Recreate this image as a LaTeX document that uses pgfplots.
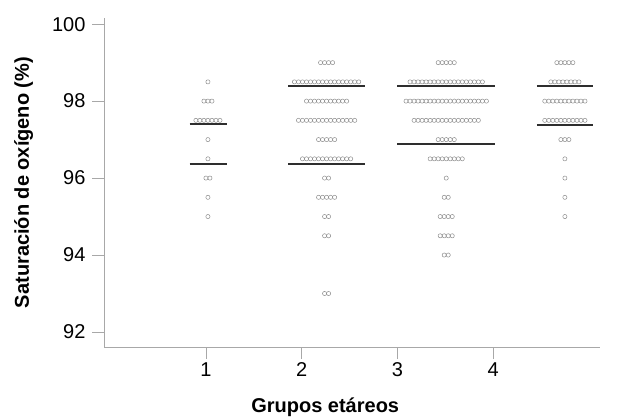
\documentclass[border=0pt]{standalone}
\usepackage{fontspec}
\setmainfont{Liberation Sans}
\usepackage{pgfplots}
\usepackage{pgfplotstable}
\pgfplotsset{compat=1.18}

% dot positions: k = offset index of the dot in its row, y = saturation value
\pgfplotstableread[row sep=\\]{
k y\\
0 98.5\\
-1 98\\ 0 98\\ 1 98\\
-3 97.5\\ -2 97.5\\ -1 97.5\\ 0 97.5\\ 1 97.5\\ 2 97.5\\ 3 97.5\\
0 97\\
0 96.5\\
-0.5 96\\ 0.5 96\\
0 95.5\\
0 95\\
}\gA

\pgfplotstableread[row sep=\\]{
k y\\
-1.5 99\\ -0.5 99\\ 0.5 99\\ 1.5 99\\
-8 98.5\\ -7 98.5\\ -6 98.5\\ -5 98.5\\ -4 98.5\\ -3 98.5\\ -2 98.5\\ -1 98.5\\ 0 98.5\\ 1 98.5\\ 2 98.5\\ 3 98.5\\ 4 98.5\\ 5 98.5\\ 6 98.5\\ 7 98.5\\ 8 98.5\\
-5 98\\ -4 98\\ -3 98\\ -2 98\\ -1 98\\ 0 98\\ 1 98\\ 2 98\\ 3 98\\ 4 98\\ 5 98\\
-7 97.5\\ -6 97.5\\ -5 97.5\\ -4 97.5\\ -3 97.5\\ -2 97.5\\ -1 97.5\\ 0 97.5\\ 1 97.5\\ 2 97.5\\ 3 97.5\\ 4 97.5\\ 5 97.5\\ 6 97.5\\ 7 97.5\\
-2 97\\ -1 97\\ 0 97\\ 1 97\\ 2 97\\
-6 96.5\\ -5 96.5\\ -4 96.5\\ -3 96.5\\ -2 96.5\\ -1 96.5\\ 0 96.5\\ 1 96.5\\ 2 96.5\\ 3 96.5\\ 4 96.5\\ 5 96.5\\ 6 96.5\\
-0.5 96\\ 0.5 96\\
-2 95.5\\ -1 95.5\\ 0 95.5\\ 1 95.5\\ 2 95.5\\
-0.5 95\\ 0.5 95\\
-0.5 94.5\\ 0.5 94.5\\
-0.5 93\\ 0.5 93\\
}\gB

\pgfplotstableread[row sep=\\]{
k y\\
-2 99\\ -1 99\\ 0 99\\ 1 99\\ 2 99\\
-9 98.5\\ -8 98.5\\ -7 98.5\\ -6 98.5\\ -5 98.5\\ -4 98.5\\ -3 98.5\\ -2 98.5\\ -1 98.5\\ 0 98.5\\ 1 98.5\\ 2 98.5\\ 3 98.5\\ 4 98.5\\ 5 98.5\\ 6 98.5\\ 7 98.5\\ 8 98.5\\ 9 98.5\\
-10 98\\ -9 98\\ -8 98\\ -7 98\\ -6 98\\ -5 98\\ -4 98\\ -3 98\\ -2 98\\ -1 98\\ 0 98\\ 1 98\\ 2 98\\ 3 98\\ 4 98\\ 5 98\\ 6 98\\ 7 98\\ 8 98\\ 9 98\\ 10 98\\
-8 97.5\\ -7 97.5\\ -6 97.5\\ -5 97.5\\ -4 97.5\\ -3 97.5\\ -2 97.5\\ -1 97.5\\ 0 97.5\\ 1 97.5\\ 2 97.5\\ 3 97.5\\ 4 97.5\\ 5 97.5\\ 6 97.5\\ 7 97.5\\ 8 97.5\\
-2 97\\ -1 97\\ 0 97\\ 1 97\\ 2 97\\
-4 96.5\\ -3 96.5\\ -2 96.5\\ -1 96.5\\ 0 96.5\\ 1 96.5\\ 2 96.5\\ 3 96.5\\ 4 96.5\\
0 96\\
-0.5 95.5\\ 0.5 95.5\\
-1.5 95\\ -0.5 95\\ 0.5 95\\ 1.5 95\\
-1.5 94.5\\ -0.5 94.5\\ 0.5 94.5\\ 1.5 94.5\\
-0.5 94\\ 0.5 94\\
}\gC

\pgfplotstableread[row sep=\\]{
k y\\
-2 99\\ -1 99\\ 0 99\\ 1 99\\ 2 99\\
-3.5 98.5\\ -2.5 98.5\\ -1.5 98.5\\ -0.5 98.5\\ 0.5 98.5\\ 1.5 98.5\\ 2.5 98.5\\ 3.5 98.5\\
-5 98\\ -4 98\\ -3 98\\ -2 98\\ -1 98\\ 0 98\\ 1 98\\ 2 98\\ 3 98\\ 4 98\\ 5 98\\
-5 97.5\\ -4 97.5\\ -3 97.5\\ -2 97.5\\ -1 97.5\\ 0 97.5\\ 1 97.5\\ 2 97.5\\ 3 97.5\\ 4 97.5\\ 5 97.5\\
-1 97\\ 0 97\\ 1 97\\
0 96.5\\
0 96\\
0 95.5\\
0 95\\
}\gD

\definecolor{axgray}{HTML}{A8A8A8}
\definecolor{dotgray}{HTML}{8C8C8C}
\definecolor{linedark}{HTML}{2E2E2E}

\begin{document}
\begin{tikzpicture}
\path[use as bounding box] (0pt,0pt) rectangle (617pt,418pt);
\begin{axis}[
  at={(104pt,71pt)}, anchor=south west,
  scale only axis, width=496pt, height=329pt,
  xmin=-0.066, xmax=5.117, ymin=91.61, ymax=100.16,
  axis x line*=bottom, axis y line*=left,
  axis line style={draw=axgray, line width=0.8pt},
  xtick={1,2,3,4}, ytick={92,94,96,98,100},
  tick align=outside, major tick length=12pt,
  tick style={draw=axgray, line width=0.8pt},
  /pgf/number format/assume math mode=true,
  ticklabel style={font=\fontsize{20}{23}\selectfont, text=black},
  yticklabel style={xshift=-3pt},
  xlabel={\textbf{Grupos etáreos}},
  ylabel={\textbf{Saturación de oxígeno (\%)}},
  label style={font=\fontsize{20}{24}\selectfont},
  xlabel style={at={(axis description cs:0.446,-0.182)}, anchor=center},
  ylabel style={at={(axis description cs:-0.162,0.5)}, anchor=center},
  clip=false,
]
\pgfplotsset{dotstyle/.style={only marks, mark=o, mark size=2.1pt, mark options={draw=dotgray, line width=0.5pt}}}
\addplot[dotstyle] table[x expr=1.02+0.042*\thisrow{k}, y=y] {\gA};
\addplot[dotstyle] table[x expr=2.26+0.042*\thisrow{k}, y=y] {\gB};
\addplot[dotstyle] table[x expr=3.51+0.042*\thisrow{k}, y=y] {\gC};
\addplot[dotstyle] table[x expr=4.75+0.042*\thisrow{k}, y=y] {\gD};
% reference lines
\addplot[draw=linedark, line width=2.3pt] coordinates {(0.83,97.4) (1.22,97.4)};
\addplot[draw=linedark, line width=2.3pt] coordinates {(0.83,96.36) (1.22,96.36)};
\addplot[draw=linedark, line width=2.3pt] coordinates {(1.86,98.39) (2.66,98.39)};
\addplot[draw=linedark, line width=2.3pt] coordinates {(1.86,96.36) (2.66,96.36)};
\addplot[draw=linedark, line width=2.3pt] coordinates {(3.0,98.39) (4.02,98.39)};
\addplot[draw=linedark, line width=2.3pt] coordinates {(3.0,96.88) (4.02,96.88)};
\addplot[draw=linedark, line width=2.3pt] coordinates {(4.457,98.39) (5.043,98.39)};
\addplot[draw=linedark, line width=2.3pt] coordinates {(4.457,97.38) (5.043,97.38)};
\end{axis}
\end{tikzpicture}
\end{document}
